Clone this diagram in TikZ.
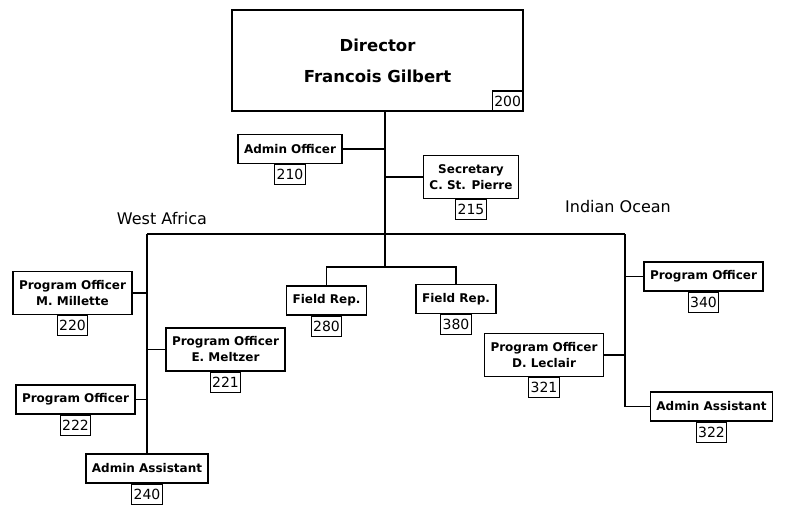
\documentclass[tikz,border=0pt]{standalone}
\usepackage{fontspec}
\setmainfont{DejaVu Sans}
\usetikzlibrary{positioning}
\tikzstyle{unit} = [rectangle, draw=black, line width=1.3pt, fill=white, align=center, font=\fontsize{12}{16}\selectfont\bfseries, inner xsep=6pt, inner ysep=3pt, minimum height=29pt]
\tikzstyle{unittwo} = [unit, minimum height=43pt]
\tikzstyle{head} = [unit, font=\fontsize{16.5}{31}\selectfont\bfseries, minimum width=291pt, minimum height=101pt]
\tikzstyle{num} = [rectangle, draw=black, line width=1.2pt, fill=white, font=\fontsize{14}{15}\selectfont, inner xsep=2pt, inner ysep=2pt, minimum height=20pt]
\tikzstyle{region} = [font=\fontsize{16}{18}\selectfont]
\tikzstyle{link} = [line width=1.4pt]

\begin{document}
\begin{tikzpicture}[x=1pt, y=-1pt]
\useasboundingbox (0,0) rectangle (785,508);

\node (dir) [head] at (377.5,60.5) {Director\\Francois Gilbert};
\node (dirnum) [num, anchor=south east] at (dir.south east) {200};

\node (admoff) [unit] at (290,149) {Admin Officer};
\node (admoffnum) [num, below=0pt of admoff] {210};
\node (sec) [unittwo] at (471,177) {Secretary\\C. St. Pierre};
\node (secnum) [num, below=0pt of sec] {215};

% field reps
\node (fra) [unit] at (326.5,300.5) {Field Rep.};
\node (franum) [num, below=0pt of fra] {280};
\node (frb) [unit] at (456,299) {Field Rep.};
\node (frbnum) [num, below=0pt of frb] {380};

% west africa
\node (walabel) [region] at (162,219) {West Africa};
\node (poa) [unittwo] at (72.5,293) {Program Officer\\M. Millette};
\node (poanum) [num, below=0pt of poa] {220};
\node (pob) [unittwo] at (225.5,349.5) {Program Officer\\E. Meltzer};
\node (pobnum) [num, below=0pt of pob] {221};
\node (poc) [unit] at (75.5,399.5) {Program Officer};
\node (pocnum) [num, below=0pt of poc] {222};
\node (aaa) [unit] at (147,468.5) {Admin Assistant};
\node (aaanum) [num, below=0pt of aaa] {240};

% indian ocean
\node (iolabel) [region] at (618,207) {Indian Ocean};
\node (pod) [unit] at (703.5,276.5) {Program Officer};
\node (podnum) [num, below=0pt of pod] {340};
\node (poe) [unittwo] at (544,355) {Program Officer\\D. Leclair};
\node (poenum) [num, below=0pt of poe] {321};
\node (aab) [unit] at (711.5,406.5) {Admin Assistant};
\node (aabnum) [num, below=0pt of aab] {322};

\coordinate (top) at (385,111);
\coordinate (frsplit) at (385,267);
\coordinate (wa) at (147,234);
\coordinate (io) at (625,234);

\draw [link] (top) -- (frsplit);
\draw [link] (admoff.east) -- (admoff.east -| top);
\draw [link] (sec.west) -- (sec.west -| top);
\draw [link] (wa) -- (io);
\draw [link] (fra.north) |- (frsplit) -| (frb.north);

\draw [link] (wa) -- (aaa.north);
\draw [link] (poa.east) -- (poa.east -| wa);
\draw [link] (pob.west) -- (pob.west -| wa);
\draw [link] (poc.east) -- (poc.east -| wa);

\draw [link] (io) |- (aab.west);
\draw [link] (pod.west) -- (pod.west -| io);
\draw [link] (poe.east) -- (poe.east -| io);

\end{tikzpicture}
\end{document}
